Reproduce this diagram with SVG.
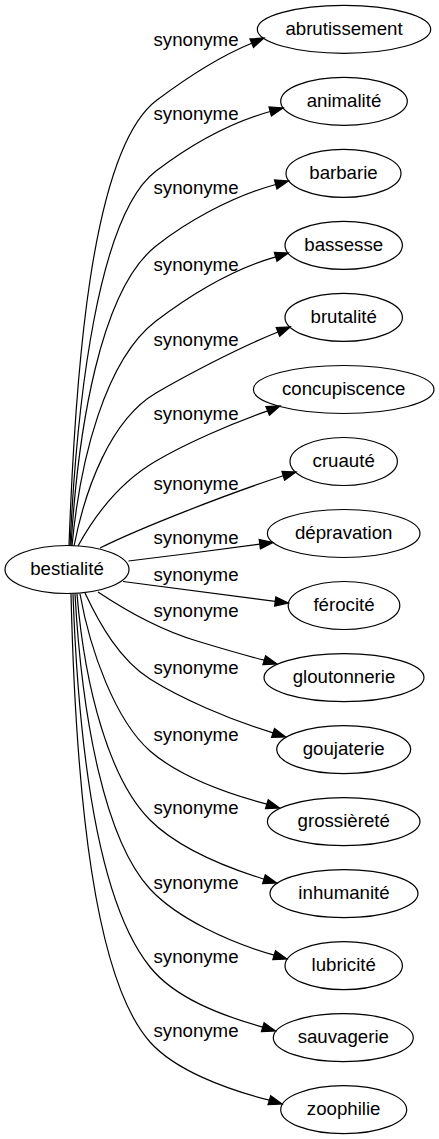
<svg xmlns="http://www.w3.org/2000/svg" width="439" height="1139" viewBox="0 0 439 1139">
<style>
.n ellipse{fill:none;stroke:#000;stroke-width:1.2}
text{font-family:"Liberation Sans",Arial,sans-serif;font-size:18.67px;fill:#000;text-anchor:middle}
.e path{fill:none;stroke:#000;stroke-width:1.2}
.e polygon{fill:#000;stroke:#000;stroke-width:1.2}
</style>
<rect width="439" height="1139" fill="#fff"/>
<g id="connectors" class="e">
<path d="M69,546 C75,380 90,150 157,100 C185,79 218,57 251.7,43.2"/><polygon points="253.5,47.5 264,38 249.9,38.9"/>
<path d="M70,546 C77,400 98,215 156,171 C185,149 225,124 270.2,111.5"/><polygon points="271.4,116 283,108 269,107"/>
<path d="M71,546 C78,430 100,290 156,246 C185,223 230,197 275.7,184.5"/><polygon points="276.9,189 288.5,181 274.5,180"/>
<path d="M72,546 C80,460 105,360 156,321 C185,299 230,270 275.7,256.8"/><polygon points="277,261.3 288.4,253 274.3,252.3"/>
<path d="M74,546 C85,490 110,420 156,393 C185,376 240,347 278,332"/><polygon points="279.7,336.3 290.3,327 276.2,327.6"/>
<path d="M78,546 C95,515 120,482 156,461 C185,444 230,424 267.7,410.9"/><polygon points="269.4,415.3 280,406 265.9,406.6"/>
<path d="M100,548 C140,528 230,493 283.3,475.8"/><polygon points="284.6,480.3 296,472 281.9,471.3"/>
<path d="M128.5,561 C170,556 220,549.5 259.8,544.2"/><polygon points="260.4,548.9 273,542.5 259.2,539.6"/>
<path d="M123,581.5 C170,588 220,594.5 275.2,601.4"/><polygon points="274.6,606.1 288.4,603 275.8,596.8"/>
<path d="M98,592 C125,610 160,630 197,641 C220,648 240,654 264.3,660.2"/><polygon points="262.9,664.7 277,664 265.6,655.7"/>
<path d="M85,593 C100,625 120,660 150,679 C180,698 230,720 273.1,732.8"/><polygon points="271.6,737.3 285.7,737 274.5,728.4"/>
<path d="M80,594 C90,650 115,720 150,751 C180,777 225,793 266.9,804.2"/><polygon points="265.5,808.7 279.6,808 268.2,799.7"/>
<path d="M77,594 C85,690 110,780 150,820 C178,848 225,867 264,879.2"/><polygon points="262.6,883.7 276.7,883 265.3,874.7"/>
<path d="M75,594 C82,720 105,840 150,889 C177,918 228,942 274.2,955.2"/><polygon points="272.8,959.7 286.9,959 275.5,950.7"/>
<path d="M73,594 C79,760 100,905 150,967 C175,998 220,1015 262.8,1027.2"/><polygon points="261.4,1031.7 275.5,1031 264.1,1022.7"/>
<path d="M71,594 C76,800 95,980 150,1042 C175,1070 225,1089 269.4,1100.2"/><polygon points="268,1104.7 282.1,1104 270.7,1095.7"/>
<text x="196" y="46">synonyme</text>
<text x="196" y="120">synonyme</text>
<text x="196" y="194">synonyme</text>
<text x="196" y="271">synonyme</text>
<text x="196" y="346">synonyme</text>
<text x="196" y="420">synonyme</text>
<text x="196" y="490">synonyme</text>
<text x="196" y="544">synonyme</text>
<text x="196" y="581">synonyme</text>
<text x="196" y="617">synonyme</text>
<text x="196" y="674">synonyme</text>
<text x="196" y="741">synonyme</text>
<text x="196" y="814">synonyme</text>
<text x="196" y="889">synonyme</text>
<text x="196" y="963">synonyme</text>
<text x="196" y="1037">synonyme</text>
</g>
<g id="bestialite" class="n"><ellipse cx="67" cy="569.5" rx="62" ry="24"/><text x="67" y="575.1">bestialité</text></g>
<g id="abrutissement" class="n"><ellipse cx="344" cy="29.3" rx="86.7" ry="24"/><text x="344" y="34.9">abrutissement</text></g>
<g id="animalite" class="n"><ellipse cx="344" cy="101.3" rx="63.3" ry="24"/><text x="344" y="106.9">animalité</text></g>
<g id="barbarie" class="n"><ellipse cx="343.5" cy="173.4" rx="57.5" ry="24"/><text x="343.5" y="179">barbarie</text></g>
<g id="bassesse" class="n"><ellipse cx="343.7" cy="245.4" rx="58.7" ry="24"/><text x="343.7" y="251">bassesse</text></g>
<g id="brutalite" class="n"><ellipse cx="343.7" cy="317.4" rx="58.7" ry="24"/><text x="343.7" y="323">brutalité</text></g>
<g id="concupiscence" class="n"><ellipse cx="343.7" cy="389.5" rx="90.3" ry="24"/><text x="343.7" y="395.1">concupiscence</text></g>
<g id="cruaute" class="n"><ellipse cx="343.7" cy="461.5" rx="53.7" ry="24"/><text x="343.7" y="467.1">cruauté</text></g>
<g id="depravation" class="n"><ellipse cx="343.7" cy="533.5" rx="76.3" ry="24"/><text x="343.7" y="539.1">dépravation</text></g>
<g id="ferocite" class="n"><ellipse cx="344" cy="605.5" rx="55.8" ry="24"/><text x="344" y="611.1">férocité</text></g>
<g id="gloutonnerie" class="n"><ellipse cx="344" cy="677.6" rx="80" ry="24"/><text x="344" y="683.2">gloutonnerie</text></g>
<g id="goujaterie" class="n"><ellipse cx="343.7" cy="749.6" rx="67" ry="24"/><text x="343.7" y="755.2">goujaterie</text></g>
<g id="grossierete" class="n"><ellipse cx="343.7" cy="821.6" rx="76.3" ry="24"/><text x="343.7" y="827.2">grossièreté</text></g>
<g id="inhumanite" class="n"><ellipse cx="344" cy="893.6" rx="74" ry="24"/><text x="344" y="899.2">inhumanité</text></g>
<g id="lubricite" class="n"><ellipse cx="343.7" cy="965.7" rx="58.7" ry="24"/><text x="343.7" y="971.3">lubricité</text></g>
<g id="sauvagerie" class="n"><ellipse cx="343.3" cy="1037.7" rx="70" ry="24"/><text x="343.3" y="1043.3">sauvagerie</text></g>
<g id="zoophilie" class="n"><ellipse cx="343.7" cy="1109.7" rx="63" ry="24"/><text x="343.7" y="1115.3">zoophilie</text></g>
</svg>
